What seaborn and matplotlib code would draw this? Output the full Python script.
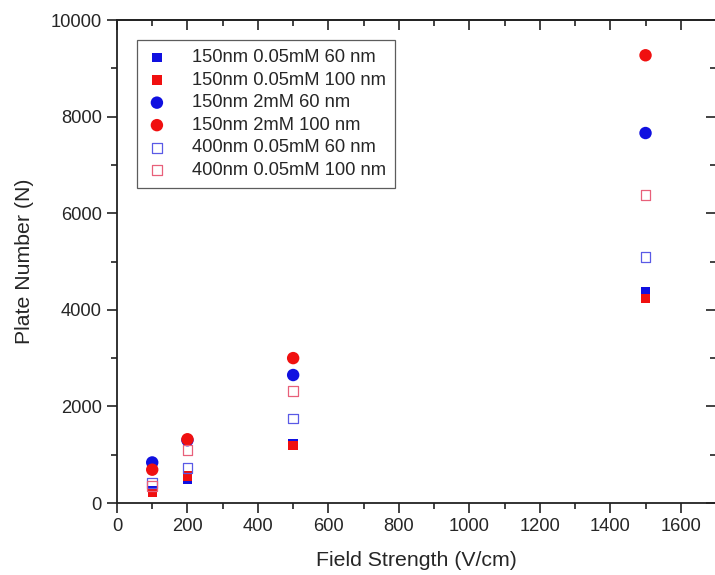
import matplotlib
matplotlib.use("Agg")
import matplotlib.pyplot as plt
import seaborn as sns
import pandas as pd
from matplotlib.ticker import MultipleLocator

field = [100, 200, 500, 1500]
s150_005_60 = [250, 480, 1230, 4370]
s150_005_100 = [220, 560, 1190, 4240]
s150_2_60 = [840, 1300, 2650, 7660]
s150_2_100 = [690, 1320, 3000, 9270]
s400_005_60 = [420, 730, 1750, 5100]
s400_005_100 = [360, 1090, 2320, 6380]

labels = ["150nm 0.05mM 60 nm", "150nm 0.05mM 100 nm", "150nm 2mM 60 nm",
          "150nm 2mM 100 nm", "400nm 0.05mM 60 nm", "400nm 0.05mM 100 nm"]
series = [s150_005_60, s150_005_100, s150_2_60, s150_2_100, s400_005_60, s400_005_100]

sns.set_style("white")
plt.rcParams['font.family'] = ['Liberation Sans', 'DejaVu Sans']

fig = plt.figure(figsize=(7.15, 5.75), dpi=100)
ax = fig.add_axes([0.1636, 0.1252, 0.8378, 0.840])

styles = [
    dict(marker='s', s=45, color='#1010e0', edgecolor='none'),
    dict(marker='s', s=45, color='#f01010', edgecolor='none'),
    dict(marker='o', s=80, color='#1010e0', edgecolor='none'),
    dict(marker='o', s=80, color='#f01010', edgecolor='none'),
    dict(marker='s', s=50, facecolor='none', edgecolor='#5a5ae6', linewidth=0.9),
    dict(marker='s', s=50, facecolor='none', edgecolor='#e8607a', linewidth=0.9),
]

for lab, vals, st in zip(labels, series, styles):
    df = pd.DataFrame({"x": field, "y": vals})
    sns.scatterplot(data=df, x="x", y="y", ax=ax, label=lab, **st)

ax.set_xlim(0, 1700)
ax.set_ylim(0, 10000)
ax.xaxis.set_major_locator(MultipleLocator(200))
ax.xaxis.set_minor_locator(MultipleLocator(100))
ax.yaxis.set_major_locator(MultipleLocator(2000))
ax.yaxis.set_minor_locator(MultipleLocator(1000))
ax.tick_params(which='both', bottom=True, left=True, top=False, right=False)
ax.tick_params(which='major', direction='out', length=7, width=1.2, labelsize=13.2,
               color='#222222', pad=4)
ax.tick_params(which='minor', direction='out', length=4, width=1.2, color='#222222')
for sp in ax.spines.values():
    sp.set_color('#222222')
    sp.set_linewidth(1.3)

top = ax.secondary_xaxis('top')
top.xaxis.set_major_locator(MultipleLocator(200))
top.xaxis.set_minor_locator(MultipleLocator(100))
top.tick_params(which='both', top=True)
top.tick_params(which='major', direction='in', length=7, width=1.2, labeltop=False, color='#222222')
top.tick_params(which='minor', direction='in', length=4, width=1.2, color='#222222')
top.spines['top'].set_linewidth(1.3)
right = ax.secondary_yaxis('right')
right.yaxis.set_major_locator(MultipleLocator(2000))
right.yaxis.set_minor_locator(MultipleLocator(1000))
right.tick_params(which='both', right=True)
right.tick_params(which='major', direction='in', length=7, width=1.2, labelright=False, color='#222222')
right.tick_params(which='minor', direction='in', length=4, width=1.2, color='#222222')

ax.set_xlabel("Field Strength (V/cm)", fontsize=15.3, labelpad=11)
ax.set_ylabel("Plate Number (N)", fontsize=15.3, labelpad=12)

leg = ax.legend(loc='upper left', bbox_to_anchor=(0.033, 0.958), fontsize=13.2,
                frameon=True, fancybox=False, edgecolor='#333333', handletextpad=1.3,
                borderpad=0.5, labelspacing=0.3, handlelength=1.2, borderaxespad=0)
leg.get_frame().set_linewidth(0.9)

fig.savefig("out.png", dpi=100)
